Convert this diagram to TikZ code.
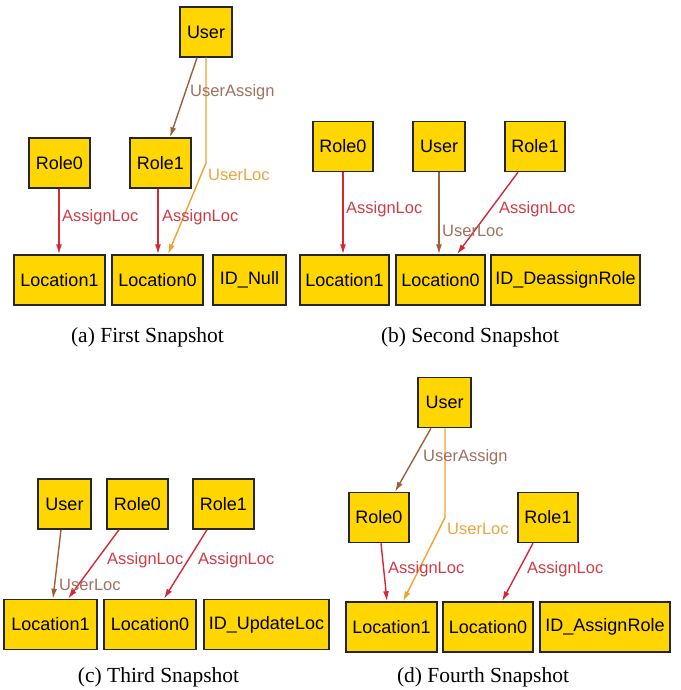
\documentclass[tikz,border=0pt]{standalone}
\usepackage{fontspec}
\setmainfont{Liberation Serif}
\setsansfont{Liberation Sans}
\usepackage{tikz}
\usetikzlibrary{arrows.meta}
\usetikzlibrary{calc}

\definecolor{boxgold}{RGB}{255,214,0}
\definecolor{edgered}{RGB}{214,40,52}
\definecolor{edgebrown}{RGB}{156,96,56}
\definecolor{edgeorange}{RGB}{242,162,44}
\definecolor{labelred}{RGB}{206,60,72}
\definecolor{labelbrown}{RGB}{160,112,96}
\definecolor{labelorange}{RGB}{236,164,64}

\tikzset{
  snapbox/.style={shape=rectangle, draw=black!85, line width=1.5pt, fill=boxgold, minimum height=50pt, inner sep=0pt, font=\sffamily\fontsize{18}{20}\selectfont},
  edgelabel/.style={anchor=west, inner sep=0pt, font=\sffamily\fontsize{16.5}{19}\selectfont},
  snapcaption/.style={anchor=base, inner sep=0pt, font=\fontsize{21.5}{24}\selectfont},
  assignloc/.style={->, >={Latex[length=10pt,width=6pt]}, line width=1.4pt, draw=edgered},
  userassign/.style={->, >={Latex[length=10pt,width=6pt]}, line width=1.4pt, draw=edgebrown},
  userloc/.style={->, >={Latex[length=10pt,width=6pt]}, line width=1.4pt, draw=edgeorange}
}

\begin{document}
\begin{tikzpicture}[x=1pt, y=-1pt]
\useasboundingbox (0,0) rectangle (680,690);
% (a) first snapshot
\node[snapbox, minimum width=52pt] (userA) at (206,32) {User};
\node[snapbox, minimum width=61pt] (rolezeroA) at (59.5,163) {Role0};
\node[snapbox, minimum width=61pt] (roleoneA) at (160.5,163) {Role1};
\node[snapbox, minimum width=91pt] (loconeA) at (59.5,280) {Location1};
\node[snapbox, minimum width=91pt] (loczeroA) at (157.5,280) {Location0};
\node[snapbox, minimum width=73pt] (idA) at (249.5,280) {ID\_Null};
\draw[userassign] ([xshift=-9pt]userA.south) -- ([xshift=9.5pt]roleoneA.north);
\draw[userloc] (userA.south) -- (userA.south |- roleoneA.center) -- ([xshift=10.5pt]loczeroA.north);
\draw[assignloc] ([xshift=-0.5pt]rolezeroA.south) -- ([xshift=-0.5pt]loconeA.north);
\draw[assignloc] ([xshift=-2.5pt]roleoneA.south) -- ([xshift=0.5pt]loczeroA.north);
\node[edgelabel, text=labelbrown] (lblUserAssignA) at (190,92) {UserAssign};
\node[edgelabel, text=labelorange] (lblUserLocA) at (208,175) {UserLoc};
\node[edgelabel, text=labelred] (lblAssignLocA0) at (62,217) {AssignLoc};
\node[edgelabel, text=labelred] (lblAssignLocA1) at (162,217) {AssignLoc};
\node[snapcaption] (capA) at (147.5,342) {(a) First Snapshot};
% (b) second snapshot
\node[snapbox, minimum width=60pt] (rolezeroB) at (343,146.5) {Role0};
\node[snapbox, minimum width=52pt] (userB) at (439,146.5) {User};
\node[snapbox, minimum width=60pt] (roleoneB) at (535,146.5) {Role1};
\node[snapbox, minimum width=89pt] (loconeB) at (344.5,280) {Location1};
\node[snapbox, minimum width=89pt] (loczeroB) at (440.5,280) {Location0};
\node[snapbox, minimum width=149pt] (idB) at (565.5,280) {ID\_DeassignRole};
\draw[assignloc] (rolezeroB.south) -- ([xshift=-1.5pt]loconeB.north);
\draw[userassign] (userB.south) -- ([xshift=-1.5pt]loczeroB.north);
\draw[assignloc] ([xshift=-17pt]roleoneB.south) -- ([xshift=16.5pt]loczeroB.north);
\node[edgelabel, text=labelred] (lblAssignLocB0) at (346,209) {AssignLoc};
\node[edgelabel, text=labelbrown] (lblUserLocB) at (442,231) {UserLoc};
\node[edgelabel, text=labelred] (lblAssignLocB1) at (499,209) {AssignLoc};
\node[snapcaption] (capB) at (470,342) {(b) Second Snapshot};
% (c) third snapshot
\node[snapbox, minimum width=53pt] (userC) at (64.5,504) {User};
\node[snapbox, minimum width=61pt] (rolezeroC) at (137.5,504) {Role0};
\node[snapbox, minimum width=61pt] (roleoneC) at (223.5,504) {Role1};
\node[snapbox, minimum width=93pt] (loconeC) at (50.5,624.5) {Location1};
\node[snapbox, minimum width=92pt] (loczeroC) at (150,624.5) {Location0};
\node[snapbox, minimum width=125pt] (idC) at (266.5,624.5) {ID\_UpdateLoc};
\draw[userassign] ([xshift=-3.5pt]userC.south) -- ([xshift=2.5pt]loconeC.north);
\draw[assignloc] ([xshift=-18.5pt]rolezeroC.south) -- ([xshift=17.5pt]loconeC.north);
\draw[assignloc] ([xshift=-16.5pt]roleoneC.south) -- ([xshift=14pt]loczeroC.north);
\node[edgelabel, text=labelbrown] (lblUserLocC) at (59,585) {UserLoc};
\node[edgelabel, text=labelred] (lblAssignLocC0) at (107,560) {AssignLoc};
\node[edgelabel, text=labelred] (lblAssignLocC1) at (198,560) {AssignLoc};
\node[snapcaption] (capC) at (158.5,682) {(c) Third Snapshot};
% (d) fourth snapshot
\node[snapbox, minimum width=53pt] (userD) at (444.5,402.5) {User};
\node[snapbox, minimum width=60pt] (rolezeroD) at (379,517.5) {Role0};
\node[snapbox, minimum width=60pt] (roleoneD) at (548,517.5) {Role1};
\node[snapbox, minimum width=91pt] (loconeD) at (391.5,627) {Location1};
\node[snapbox, minimum width=90pt] (loczeroD) at (488,627) {Location0};
\node[snapbox, minimum width=130pt] (idD) at (605,627) {ID\_AssignRole};
\draw[userassign] ([xshift=-13.5pt]userD.south) -- ([xshift=16pt]rolezeroD.north);
\draw[userloc] ([xshift=0.5pt]userD.south) -- ([xshift=0.5pt]userD.south |- rolezeroD.center) -- ([xshift=11.5pt]loconeD.north);
\draw[assignloc] ([xshift=2pt]rolezeroD.south) -- ([xshift=-4.5pt]loconeD.north);
\draw[assignloc] ([xshift=-15pt]roleoneD.south) -- ([xshift=14pt]loczeroD.north);
\node[edgelabel, text=labelbrown] (lblUserAssignD) at (423,457) {UserAssign};
\node[edgelabel, text=labelorange] (lblUserLocD) at (447,529) {UserLoc};
\node[edgelabel, text=labelred] (lblAssignLocD0) at (388,569) {AssignLoc};
\node[edgelabel, text=labelred] (lblAssignLocD1) at (527,569) {AssignLoc};
\node[snapcaption] (capD) at (483,682) {(d) Fourth Snapshot};
\end{tikzpicture}
\end{document}
